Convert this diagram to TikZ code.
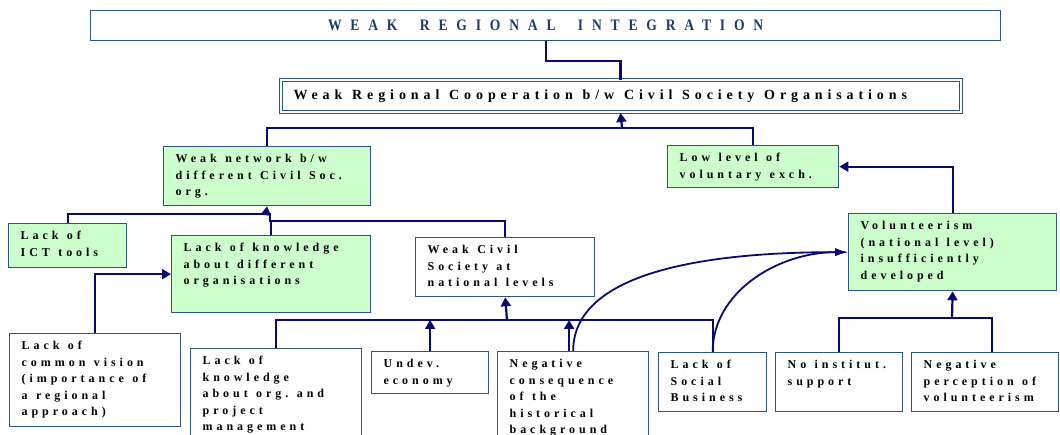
\documentclass[tikz,border=0pt]{standalone}
\usepackage{fontspec}
\usetikzlibrary{arrows.meta}
\newfontfamily\cellfont[LetterSpace=33]{Liberation Serif}
\newfontfamily\coopfont[LetterSpace=35]{Liberation Serif}
\newfontfamily\headfont[LetterSpace=55,FakeStretch=0.85]{Liberation Serif}
\newcommand{\gap}{\hspace{0.7em}}
\newcommand{\headgap}{\hspace{1.4em}}
\definecolor{boxline}{RGB}{45,85,130}
\definecolor{linkblue}{RGB}{10,10,110}
\definecolor{cellgreen}{RGB}{204,255,204}
\definecolor{headblue}{RGB}{30,60,100}
\tikzset{
  >={Triangle[length=9pt,width=10pt]},
  whitebox/.style={draw=boxline, line width=1.3pt, anchor=north west, inner xsep=12pt, inner ysep=6pt,
    align=left, text height=10pt, font=\cellfont\bfseries\fontsize{12}{16.5}\selectfont},
  greenbox/.style={whitebox, fill=cellgreen},
  link/.style={draw=linkblue, line width=2.2pt},
  curvelink/.style={draw=linkblue, line width=1.8pt, -{Latex[length=13pt,width=8pt]}},
}

\begin{document}
\begin{tikzpicture}[x=1pt,y=-1pt]
  \useasboundingbox (0,0) rectangle (1060,435);

  \node[draw=boxline, line width=1.3pt, anchor=north west, minimum width=910pt, minimum height=30pt,
        text=headblue, font=\headfont\bfseries\fontsize{16}{18}\selectfont] (title) at (90,10) {WEAK\headgap REGIONAL\headgap INTEGRATION};
  \node[whitebox, double=white, double distance=2pt, line width=1pt, inner xsep=13pt, inner ysep=9pt,
        text width=654pt, text depth=4pt, font=\coopfont\bfseries\fontsize{14}{16}\selectfont] (coop) at (280,80)
        {Weak\gap Regional\gap Cooperation\gap b/w\gap Civil\gap Society\gap Organisations};

  \node[greenbox, text width=183pt, text depth=37pt] (weaknet)   at (163,146) {Weak\gap network\gap b/w\\different\gap Civil\gap Soc.\\org.};
  \node[greenbox, text width=147pt, text depth=20pt] (lowlevel)  at (667,145) {Low\gap level\gap of\\voluntary\gap exch.};
  \node[greenbox, text width=184pt, text depth=55pt] (volun)     at (848,213) {Volunteerism\\(national\gap level)\\insufficiently\\developed};
  \node[greenbox, text width=94pt,  text depth=22pt] (ict)       at (8,223)   {Lack\gap of\\ICT\gap tools};
  \node[greenbox, text width=175pt, text depth=55pt] (lackknow)  at (171,235) {Lack\gap of\gap knowledge\\about\gap different\\organisations};
  \node[whitebox, text width=155pt, text depth=37pt] (weakcivil) at (415,237) {Weak\gap Civil\\Society\gap at\\national\gap levels};
  \node[whitebox, text width=147pt, text depth=71pt] (vision)    at (9,333)   {Lack\gap of\\common\gap vision\\(importance\gap of\\a\gap regional\\approach)};
  \node[whitebox, text width=147pt, text depth=80pt] (lackorg)   at (190,348) {Lack\gap of\\knowledge\\about\gap org.\gap and\\project\\management};
  \node[whitebox, text width=93pt,  text depth=20pt] (undev)     at (371,351) {Undev.\\economy};
  \node[whitebox, text width=127pt, text depth=77pt] (ncons)     at (497,351) {Negative\\consequence\\of\gap the\\historical\\background};
  \node[whitebox, text width=84pt,  text depth=37pt] (social)    at (658,352) {Lack\gap of\\Social\\Business};
  \node[whitebox, text width=103pt, text depth=37pt] (noinst)    at (775,352) {No\gap institut.\\support};
  \node[whitebox, text width=123pt, text depth=37pt] (negperc)   at (911,352) {Negative\\perception\gap of\\volunteerism};

  \coordinate (coopbus) at (622,128);
  \coordinate (netbus)  at (266,214);
  \coordinate (netbus2) at (270,221);
  \coordinate (civbus)  at (507,320);
  \coordinate (volbus)  at (952,318);

  \draw[link] (title.south) -- ++(0,20) -| (coop.north);
  \draw[link] (weaknet.north) |- (coopbus);
  \draw[link] (lowlevel.north) |- (coopbus);
  \draw[link,->] (coopbus) -- (coop.south);

  \draw[link] (ict.north) |- (netbus);
  \draw[link] (weakcivil.north) |- (netbus2) |- (netbus);
  \draw[link] (lackknow.north) -- (lackknow.north |- netbus2);
  \draw[link,->] (netbus) -- (weaknet.south);

  \draw[link,->] (vision.north) |- (lackknow.west);

  \draw[link] (lackorg.north) |- (civbus);
  \draw[link] (social.north) |- (civbus);
  \draw[link,->] (civbus) -- (weakcivil.south);
  \draw[link,->] (undev.north) -- (undev.north |- civbus);
  \draw[link,->] ([xshift=-4pt]ncons.north) -- ([xshift=-4pt]ncons.north |- civbus);

  \draw[curvelink] (ncons.north) .. controls +(0,-70) and +(-170,0) .. (volun.west);
  \draw[curvelink] (social.north) .. controls +(0,-60) and +(-70,0) .. (volun.west);

  \draw[link] (noinst.north) |- (volbus);
  \draw[link] ([xshift=7pt]negperc.north) |- (volbus);
  \draw[link,->] (volbus) -- (volun.south);
  \draw[link,->] (volun.north) |- (lowlevel.east);
\end{tikzpicture}
\end{document}
